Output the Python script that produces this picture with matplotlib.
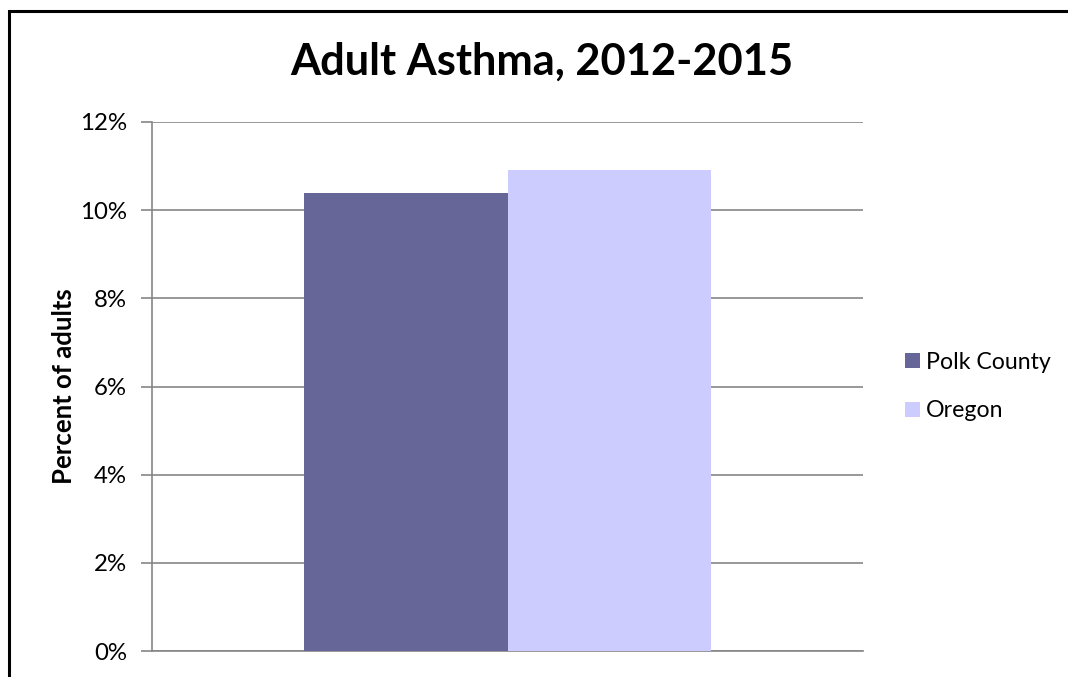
import matplotlib
matplotlib.use("Agg")
import matplotlib.pyplot as plt
from matplotlib.patches import Rectangle
from matplotlib.ticker import FuncFormatter

# data
series = ["Polk County", "Oregon"]
values = [10.4, 10.9]
colors = ["#666699", "#CCCCFF"]
yticks = [0, 2, 4, 6, 8, 10, 12]

plt.rcParams["font.family"] = ["Lato", "DejaVu Sans"]

W, H = 1068, 677
fig = plt.figure(figsize=(W / 100, H / 100), dpi=100)

# outer chart border (runs off the right/bottom edge like the reference)
fig.patches.append(Rectangle((8.7 / W, -0.1), 1.2, 1 - 10.5 / H + 0.1,
                             transform=fig.transFigure, fill=False,
                             edgecolor="black", linewidth=2.2))

ax = fig.add_axes([152 / W, 1 - 651 / H, (863 - 152) / W, (651 - 122) / H])

# one category, two series side by side (gap width ~75%)
group = 1 / 1.75
bw = group / len(series)
for i, (name, v, c) in enumerate(zip(series, values, colors)):
    x = -group / 2 + bw * (i + 0.5)
    ax.bar(x, v, width=bw, color=c, label=name, zorder=3)

ax.set_xlim(-0.5, 0.5)
ax.set_ylim(0, 12)
ax.set_yticks(yticks)
ax.yaxis.set_major_formatter(FuncFormatter(lambda v, p: f"{v:.0f}%"))
ax.set_xticks([])

ax.grid(axis="y", color="#868686", linewidth=1.2, zorder=0)
for s in ["top", "right"]:
    ax.spines[s].set_visible(False)
for s in ["left", "bottom"]:
    ax.spines[s].set_color("#868686")
    ax.spines[s].set_linewidth(1.2)
ax.tick_params(axis="y", length=8, width=1.2, color="#868686",
               labelsize=17.3, pad=10)

ax.set_ylabel("Percent of adults", fontsize=18.5, fontweight="bold", labelpad=3)

fig.text(0.5 * (293 + 790) / W, 1 - 62 / H, "Adult Asthma, 2012-2015",
         ha="center", va="center", fontsize=31.2, fontweight="bold")

ax.legend(loc="center left", bbox_to_anchor=(1.0, 0.5), frameon=False,
          fontsize=16.7, handlelength=0.65, handleheight=0.65,
          handletextpad=0.25, labelspacing=1.2, borderaxespad=1.4)

fig.savefig("out.png", dpi=100)
